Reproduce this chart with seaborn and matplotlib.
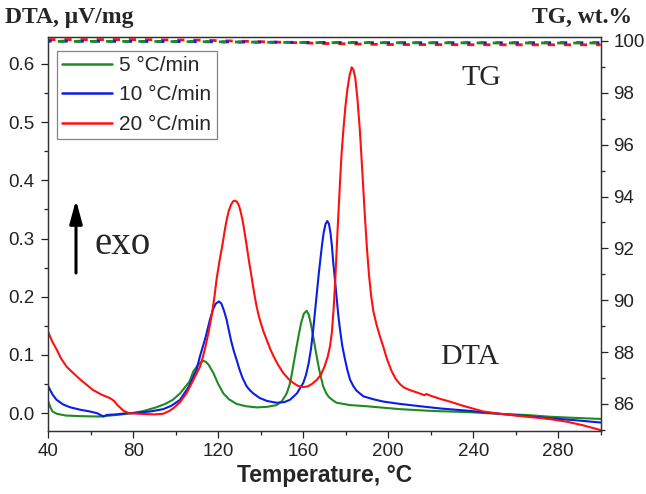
import numpy as np
import pandas as pd
import matplotlib
matplotlib.use('Agg')
import matplotlib.pyplot as plt
from matplotlib.ticker import MultipleLocator, FormatStrFormatter
import seaborn as sns

# DTA curves: temperature (°C) and signal (µV/mg)
t_5 = [40, 41, 42, 44, 48.3, 55, 64, 72, 79.7, 85, 90.7, 95, 98.6, 102, 106.4, 108.3,
       110.5, 112, 113, 114.2, 115.5, 117.7, 120, 122.4, 125, 128.6, 133, 138.1, 143,
       147.5, 150, 152.2, 153.5, 154.5, 155.7, 156.9, 158, 159, 160.3, 161.6, 162.6,
       163.5, 164.5, 165.5, 166.5, 167.5, 168.5, 169.4, 170.7, 172, 174, 175.7, 182,
       189.8, 205.5, 220, 237, 252, 265, 276, 288, 300]
dta_5 = [0.020, 0.010, 0.003, -0.001, -0.004, -0.005, -0.0057, -0.003, 0.000, 0.004,
         0.010, 0.016, 0.023, 0.034, 0.054, 0.072, 0.083, 0.088, 0.090, 0.088, 0.083,
         0.069, 0.050, 0.034, 0.024, 0.016, 0.012, 0.010, 0.011, 0.014, 0.021, 0.034,
         0.048, 0.065, 0.090, 0.115, 0.137, 0.155, 0.171, 0.176, 0.169, 0.155, 0.135,
         0.115, 0.094, 0.075, 0.059, 0.046, 0.035, 0.028, 0.022, 0.018, 0.014, 0.012,
         0.007, 0.004, 0.002, -0.001, -0.003, -0.006, -0.008, -0.0098]

t_10 = [40, 42, 43.9, 47, 50.2, 55, 59.6, 63, 65.9, 67.5, 72, 76.9, 82, 87.9, 94.1, 98,
        102, 106, 109.8, 111.4, 114, 116.1, 117.5, 118.8, 120.3, 121.5, 122.7, 123.9,
        125, 126, 127.3, 128.6, 130, 131.5, 133.4, 135, 136.5, 138, 139.6, 143, 147.5,
        151, 153.7, 157, 160, 161.3, 162.5, 163.7, 164.7, 165.6, 166.5, 167.2, 167.9,
        168.8, 169.6, 170.5, 171.3, 172.1, 172.8, 173.5, 174.1, 175, 175.8, 176.5,
        177.3, 178.3, 179.5, 180.7, 182, 183.5, 185, 188.3, 193, 197.7, 205.5, 215, 225,
        236.9, 252.6, 265, 276, 288, 300]
dta_10 = [0.046, 0.032, 0.023, 0.015, 0.0103, 0.006, 0.003, 0.000, -0.0057, -0.003,
          -0.002, 0.000, 0.001, 0.003, 0.007, 0.013, 0.023, 0.045, 0.075, 0.098, 0.130,
          0.161, 0.178, 0.188, 0.192, 0.188, 0.176, 0.161, 0.142, 0.125, 0.107, 0.092,
          0.075, 0.060, 0.046, 0.039, 0.034, 0.030, 0.026, 0.021, 0.018, 0.019, 0.023,
          0.034, 0.052, 0.066, 0.085, 0.112, 0.144, 0.177, 0.210, 0.236, 0.259, 0.288,
          0.310, 0.325, 0.330, 0.325, 0.310, 0.287, 0.259, 0.226, 0.195, 0.168, 0.144,
          0.117, 0.095, 0.075, 0.058, 0.047, 0.039, 0.029, 0.024, 0.020, 0.016, 0.012,
          0.008, 0.0045, -0.001, -0.005, -0.0086, -0.012, -0.016]

t_20 = [40, 42, 44, 46, 48.6, 52, 55, 58, 61, 65, 69, 71, 72.5, 74, 75.5, 78, 83, 90, 94,
        97, 99, 102, 105, 108, 111.4, 112.8, 114, 115.5, 117, 118.2, 119.2, 120.6, 122,
        123, 124, 125, 126, 127, 127.9, 128.8, 129.7, 130.6, 131.5, 132.5, 133.4, 134.5,
        135.5, 136.5, 137.3, 138, 139, 140, 141.3, 142.8, 144.5, 146, 148, 150.6, 153,
        155.3, 157.5, 160, 162, 164, 166.3, 168.3, 170, 171.5, 172.6, 173.5, 174.3, 175,
        176.1, 177.3, 178, 178.8, 179.8, 180.8, 181.8, 182.8, 183.6, 184.5, 185.5, 186.7,
        187.8, 189, 190, 191, 192, 193, 194.5, 196, 197.6, 199.5, 201.5, 203.5, 205.5,
        207.5, 210, 214, 217, 218, 220, 225, 229, 235, 244.7, 252.6, 260, 268, 276, 284,
        292, 300]
dta_20 = [0.139, 0.122, 0.109, 0.094, 0.080, 0.068, 0.058, 0.049, 0.040, 0.032, 0.026,
          0.021, 0.014, 0.009, 0.004, 0.000, -0.001, -0.002, -0.001, 0.004, 0.009, 0.019,
          0.034, 0.055, 0.080, 0.097, 0.115, 0.140, 0.170, 0.200, 0.230, 0.262, 0.290,
          0.313, 0.333, 0.348, 0.358, 0.364, 0.365, 0.363, 0.357, 0.345, 0.330, 0.308,
          0.287, 0.260, 0.238, 0.215, 0.198, 0.184, 0.168, 0.155, 0.140, 0.126, 0.110,
          0.098, 0.084, 0.069, 0.059, 0.052, 0.047, 0.045, 0.046, 0.050, 0.057, 0.066,
          0.080, 0.097, 0.115, 0.140, 0.180, 0.224, 0.310, 0.397, 0.443, 0.483, 0.525,
          0.557, 0.580, 0.594, 0.590, 0.575, 0.540, 0.483, 0.415, 0.339, 0.282, 0.235,
          0.200, 0.175, 0.152, 0.133, 0.115, 0.092, 0.073, 0.059, 0.050, 0.044, 0.040,
          0.035, 0.031, 0.033, 0.030, 0.024, 0.020, 0.013, 0.003, -0.001, -0.004, -0.007,
          -0.010, -0.0145, -0.021, -0.029]

# TG curves (wt.%), nearly flat near 100
t_tg = [40, 80, 110, 140, 170, 200, 250, 300]
tg_5 = [99.98, 99.98, 99.97, 99.95, 99.93, 99.93, 99.92, 99.92]
tg_10 = [99.99, 99.98, 99.97, 99.95, 99.94, 99.93, 99.93, 99.93]
tg_20 = [100.05, 100.05, 100.03, 99.97, 99.90, 99.86, 99.85, 99.85]

labels = ['5 °C/min', '10 °C/min', '20 °C/min']
colors = ['#1f8a1f', '#0a1ee6', '#ff1010']

sns.set_style('ticks')
plt.rcParams['font.family'] = ['Liberation Sans', 'DejaVu Sans']

W, H = 646, 494
fig = plt.figure(figsize=(W / 100, H / 100), dpi=100)
ax = fig.add_axes([48.3 / W, 1 - 430.7 / H, (600.7 - 48.3) / W, (430.7 - 37) / H])
ax2 = ax.twinx()

dta = [(t_5, dta_5), (t_10, dta_10), (t_20, dta_20)]
for (t, v), lab, c in zip(dta, labels, colors):
    sns.lineplot(x=t, y=v, ax=ax, color=c, label=lab, linewidth=1.5, estimator=None)

# dashed TG lines, phases shifted so all three colours show through
for v, c, off in zip([tg_20, tg_10, tg_5], colors[::-1], [0, 1.4, 2.4]):
    sns.lineplot(x=t_tg, y=v, ax=ax2, color=c, linewidth=2.0, estimator=None,
                 linestyle=(off, (2.6, 3.2)))

ax.set_xlim(40, 300)
ax.set_ylim(-0.03, 0.646)
ax2.set_ylim(84.97, 100.15)

ax.xaxis.set_major_locator(MultipleLocator(40))
ax.xaxis.set_minor_locator(MultipleLocator(20))
ax.yaxis.set_major_locator(MultipleLocator(0.1))
ax.yaxis.set_minor_locator(MultipleLocator(0.05))
ax2.yaxis.set_major_locator(MultipleLocator(2))
ax2.yaxis.set_minor_locator(MultipleLocator(1))
ax.yaxis.set_major_formatter(FormatStrFormatter('%.1f'))

for a in (ax, ax2):
    a.tick_params(which='major', direction='out', length=5, width=0.9, labelsize=13.5,
                  colors='#222222')
    a.tick_params(which='minor', direction='out', length=3, width=0.9, colors='#222222')
    for s in a.spines.values():
        s.set_visible(True)
        s.set_linewidth(0.9)
        s.set_color('#333333')
ax.tick_params(axis='y', pad=5)
ax2.tick_params(axis='y', pad=4)
ax.tick_params(axis='x', pad=4)
ax.set_ylabel('')
ax2.set_ylabel('')
ax.set_xlabel('Temperature, °C', fontsize=16.5, fontweight='bold', labelpad=3)

leg = ax.legend(loc='upper left', bbox_to_anchor=(0.0157, 0.965), borderaxespad=0,
                fontsize=15, frameon=True, fancybox=False, handlelength=2.4,
                handletextpad=0.35, labelspacing=0.5, borderpad=0.25)
leg.get_frame().set_edgecolor('#666666')
leg.get_frame().set_linewidth(0.9)
for line in leg.get_lines():
    line.set_linewidth(1.8)

serif = ['Liberation Serif', 'DejaVu Serif']
fig.text(5 / W, 1 - 17 / H, 'DTA, μV/mg', family=serif, fontsize=17, fontweight='bold',
         ha='left', va='center')
fig.text(632 / W, 1 - 17 / H, 'TG, wt.%', family=serif, fontsize=17, fontweight='bold',
         ha='right', va='center')
fig.text(481 / W, 1 - 85 / H, 'TG', family=serif, fontsize=21.5, ha='center', va='baseline')
fig.text(470 / W, 1 - 364 / H, 'DTA', family=serif, fontsize=21.5, ha='center', va='baseline')
fig.text(95 / W, 1 - 254 / H, 'exo', family=serif, fontsize=28, ha='left', va='baseline')

ax.annotate('', xy=(76 / W, 1 - 200 / H), xytext=(76 / W, 1 - 273 / H),
            xycoords='figure fraction', textcoords='figure fraction',
            arrowprops=dict(arrowstyle='-|>,head_length=1.4,head_width=0.38',
                            color='black', lw=2.2, shrinkA=0, shrinkB=0))

fig.savefig('out.png', dpi=100)
